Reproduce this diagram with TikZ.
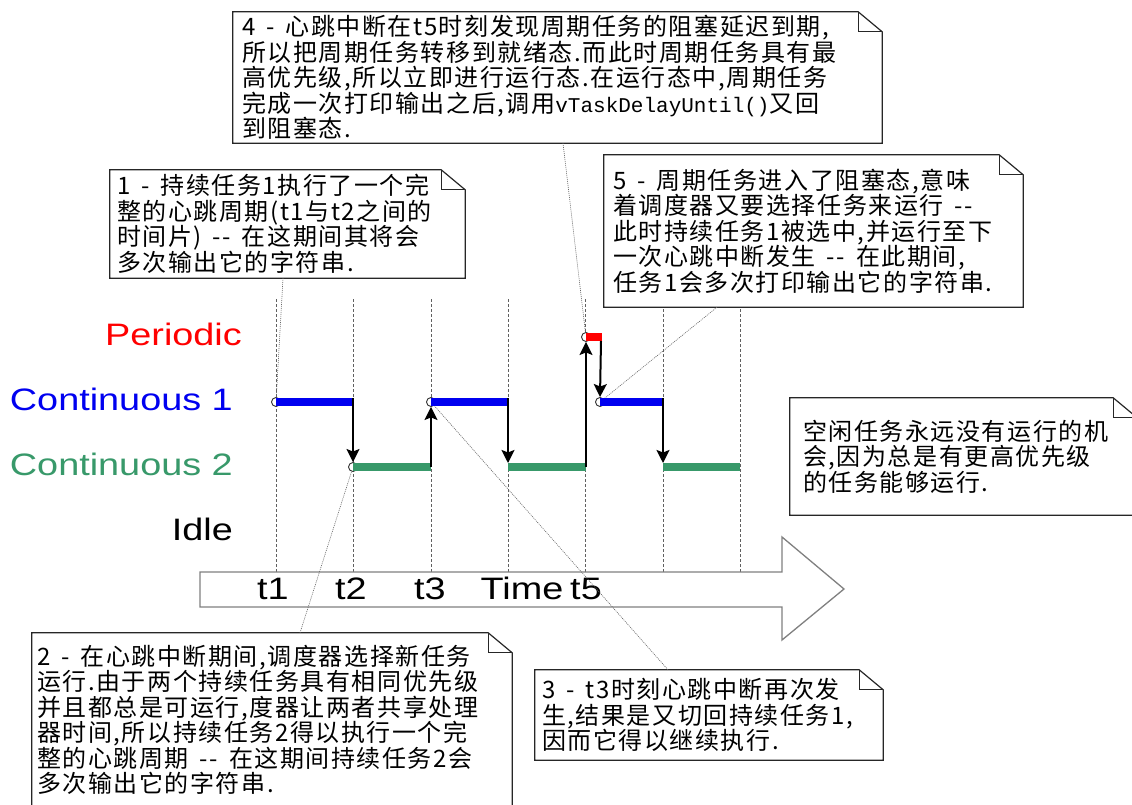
\documentclass[tikz,border=0pt]{standalone}
\usepackage{fontspec}
\usepackage{graphicx}
\setmainfont{Liberation Sans}
\setmonofont{Liberation Mono}
\newfontfamily\cjk{Noto Sans CJK SC}[LetterSpace=6.5]
\usetikzlibrary{arrows.meta}

\definecolor{verdeC}{RGB}{56,153,106}
\definecolor{bluC}{RGB}{0,0,240}

% Testo allargato delle corsie
\newcommand{\largo}[1]{\scalebox{1.22}[1]{#1}}
% Spazio largo nelle note
\newcommand{\spz}{\kern11pt}
% Contorno di una nota con l'angolo piegato
\newcommand{\notabox}[1]{%
  \draw[bordo] (#1.south west) -- (#1.north west) -- ([xshift=-24pt]#1.north east)
    -- ([yshift=-20pt]#1.north east) -- (#1.south east) -- cycle;
  \draw[bordo] ([xshift=-24pt]#1.north east) |- ([yshift=-20pt]#1.north east);}

\tikzset{
  griglia/.style={gray!75!black, line width=0.8pt, dash pattern=on 3pt off 2pt},
  tempo/.style={gray, line width=1.3pt, fill=white},
  tick/.style={font=\fontsize{31}{36}\selectfont, anchor=base, inner sep=0pt},
  corsia/.style={font=\fontsize{31}{36}\selectfont, anchor=base east, inner sep=0pt},
  punto/.style={circle, draw=black!80, fill=white, inner sep=0pt, minimum size=9pt, line width=0.9pt},
  barra/.style={line width=8.5pt},
  salto/.style={-{Stealth[length=13pt, width=13pt, inset=2.5pt]}, line width=2pt},
  nota/.style={font=\cjk\fontsize{24}{25.5}\selectfont, align=left, inner ysep=0pt, inner xsep=8pt},
  bordo/.style={black!85, line width=1.2pt},
  richiamo/.style={black!60, line width=0.6pt, dash pattern=on 1pt off 1pt}
}

\begin{document}
\begin{tikzpicture}[x=1pt,y=-1pt]
  % Riquadro dell'immagine
  \useasboundingbox[fill=white] (0,0) rectangle (1132,805);
  \clip (0,0) rectangle (1132,805);

  % Linee tratteggiate dei tick
  \foreach \x in {276,353,431,508,585} \draw[griglia] (\x,299) -- (\x,572);
  \foreach \x in {663,740} \draw[griglia] (\x,309) -- (\x,572);

  % Freccia del tempo
  \draw[tempo] (200,572) -- (782,572) -- (782,537) -- (844,589)
    -- (782,640) -- (782,607) -- (200,607) -- cycle;
  \node[tick] (t1) at (273,599) {\largo{t1}};
  \node[tick] (t2) at (351,599) {\largo{t2}};
  \node[tick] (t3) at (430,599) {\largo{t3}};
  \node[tick] (tt) at (522,599) {\largo{Time}};
  \node[tick] (t5) at (586,599) {\largo{t5}};

  % Etichette delle corsie
  \node[corsia, red] (lp) at (242,345) {\largo{Periodic}};
  \node[corsia, bluC] (lc1) at (233,410) {\largo{Continuous 1}};
  \node[corsia, verdeC] (lc2) at (233,475) {\largo{Continuous 2}};
  \node[corsia, black] (li) at (233,540) {\largo{Idle}};

  % Note
  \node[nota, text width=631pt, minimum height=131pt, inner xsep=9pt] (n4) at (557.5,77.5)
    {4\spz-\spz 心跳中断在t5时刻发现周期任务的阻塞延迟到期,\\
     所以把周期任务转移到就绪态.而此时周期任务具有最\\
     高优先级,所以立即进行运行态.在运行态中,周期任务\\
     完成一次打印输出之后,调用{\ttfamily\fontsize{21}{25.5}\selectfont vTaskDelayUntil()}又回\\
     到阻塞态.};
  \notabox{n4}
  \node[nota, text width=341pt, minimum height=108pt, inner xsep=7pt] (n1) at (287.5,224)
    {1\spz-\spz 持续任务1执行了一个完\\
     整的心跳周期(t1与t2之间的\\
     时间片)\spz--\spz 在这期间其将会\\
     多次输出它的字符串.};
  \notabox{n1}
  \node[nota, text width=401pt, minimum height=152pt, inner xsep=9pt] (n5) at (813.5,231)
    {5\spz-\spz 周期任务进入了阻塞态,意味\\
     着调度器又要选择任务来运行\spz--\\
     此时持续任务1被选中,并运行至下\\
     一次心跳中断发生\spz--\spz 在此期间,\\
     任务1会多次打印输出它的字符串.};
  \notabox{n5}
  \node[nota, text width=321pt, minimum height=117pt, inner xsep=13pt] (ni) at (963.5,456.5)
    {空闲任务永远没有运行的机\\
     会,因为总是有更高优先级\\
     的任务能够运行.};
  \notabox{ni}
  \node[nota, text width=470pt, minimum height=174pt, inner xsep=5pt] (n2) at (272,720)
    {2\spz-\spz 在心跳中断期间,调度器选择新任务\\
     运行.由于两个持续任务具有相同优先级\\
     并且都总是可运行,度器让两者共享处理\\
     器时间,所以持续任务2得以执行一个完\\
     整的心跳周期\spz--\spz 在这期间持续任务2会\\
     多次输出它的字符串.};
  \notabox{n2}
  \node[nota, text width=334pt, minimum height=90pt, inner xsep=7pt] (n3) at (709,715)
    {3\spz-\spz t3时刻心跳中断再次发\\
     生,结果是又切回持续任务1,\\
     因而它得以继续执行.};
  \notabox{n3}

  % Punti di partenza
  \node[punto] (c1) at (276,402) {};
  \node[punto] (c2) at (353,467) {};
  \node[punto] (c3) at (431,402) {};
  \node[punto] (c5) at (586,337) {};
  \node[punto] (c6) at (600,402) {};

  % Collegamenti alle note
  \draw[richiamo] ([xshift=-4.5pt]n1.south) -- (c1);
  \draw[richiamo] ([xshift=28pt]n2.north) -- (c2);
  \draw[richiamo] ([xshift=-41pt]n3.north) -- (c3);
  \draw[richiamo] ([xshift=5.5pt]n4.south) -- (c5);
  \draw[richiamo] ([xshift=-96.5pt]n5.south) -- (c6);

  % Barre di esecuzione
  \draw[barra, bluC] (c1.center) -- (353,402);
  \draw[barra, verdeC] (c2.center) -- (431,467);
  \draw[barra, bluC] (c3.center) -- (508,402);
  \draw[barra, verdeC] (508,467) -- (586,467);
  \draw[barra, red] (c5.center) -- (602,337);
  \draw[barra, bluC] (c6.center) -- (663,402);
  \draw[barra, verdeC] (663,467) -- (740,467);

  % Cambi di contesto
  \draw[salto] (353,398) -- (c2);
  \draw[salto] (431,467) -- (c3);
  \draw[salto] (508,398) -- (508,463);
  \draw[salto] (586,467) -- (c5);
  \draw[salto] (601,341) -- (c6.north);
  \draw[salto] (663,398) -- (663,463);
\end{tikzpicture}
\end{document}
